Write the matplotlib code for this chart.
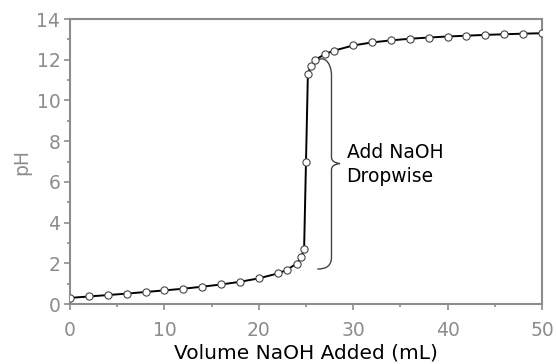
import matplotlib.pyplot as plt
from matplotlib.path import Path
from matplotlib.patches import PathPatch

# titration data
volume = [0, 2, 4, 6, 8, 10, 12, 14, 16, 18, 20, 22, 23, 24, 24.5, 24.8,
          25.0, 25.2, 25.5, 26, 27, 28, 30, 32, 34, 36, 38, 40, 42, 44, 46, 48, 50]
ph = [0.30, 0.37, 0.44, 0.51, 0.59, 0.67, 0.75, 0.85, 0.96, 1.09, 1.26, 1.50, 1.68, 1.99, 2.30, 2.70,
      7.0, 11.30, 11.70, 11.99, 12.28, 12.45, 12.70, 12.85, 12.95, 13.03, 13.09, 13.14, 13.18, 13.22, 13.25, 13.28, 13.30]

x_ticks = [0, 10, 20, 30, 40, 50]
y_ticks = [0, 2, 4, 6, 8, 10, 12, 14]
note = "Add NaOH\nDropwise"

grey = "#8c8c8c"

fig = plt.figure(figsize=(5.56, 3.64), dpi=100)
ax = fig.add_axes([0.1259, 0.1648, 0.8489, 0.783])

ax.plot(volume, ph, color="black", lw=1.4, marker="o", ms=5.2,
        mfc="white", mec="#444444", mew=0.8, zorder=3)

# curly brace next to the jump
verts = [(25.9, 11.8), (26.6, 12.3), (27.7, 12.0), (27.7, 11.2),
         (27.7, 7.2),
         (27.7, 6.95), (28.6, 6.9),
         (27.7, 6.85), (27.7, 6.6),
         (27.7, 2.3),
         (27.7, 1.7), (26.2, 1.72)]
codes = [Path.MOVETO, Path.CURVE4, Path.CURVE4, Path.CURVE4,
         Path.LINETO,
         Path.CURVE3, Path.CURVE3,
         Path.CURVE3, Path.CURVE3,
         Path.LINETO,
         Path.CURVE3, Path.CURVE3]
ax.add_patch(PathPatch(Path(verts, codes), fill=False, ec="#444444", lw=1.0))
ax.text(29.3, 6.85, note, fontsize=13.5, va="center", ha="left", linespacing=1.3)

ax.set_xlim(0, 50)
ax.set_ylim(0, 14)
ax.set_xticks(x_ticks)
ax.set_yticks(y_ticks)
ax.set_xticks([5, 15, 25, 35, 45], minor=True)
ax.set_yticks([1, 3, 5, 7, 9, 11, 13], minor=True)
ax.tick_params(which="major", direction="out", length=4, width=1.2, color=grey,
               labelcolor=grey, labelsize=13.5, pad=3)
ax.tick_params(axis="x", which="major", pad=8.5)
ax.tick_params(which="minor", direction="out", length=2.5, width=1.2, color=grey)

for s in ax.spines.values():
    s.set_color(grey)
    s.set_linewidth(1.5)

ax.set_xlabel("Volume NaOH Added (mL)", fontsize=14.5, labelpad=2)
ax.set_ylabel("pH", fontsize=13.5, color=grey, labelpad=4)

fig.savefig("out.png", dpi=100)
